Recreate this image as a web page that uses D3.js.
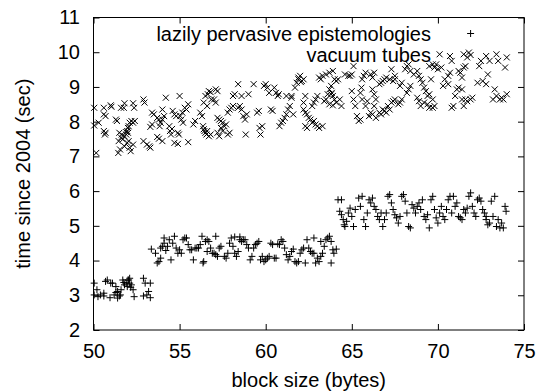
<!DOCTYPE html>
<html><head><meta charset="utf-8">
<script src="https://cdn.jsdelivr.net/npm/d3@7"></script>
<style>
html,body{margin:0;padding:0;background:#fff;}
svg{display:block;}
text{font-family:"Liberation Sans",Arial,Helvetica,sans-serif;fill:#000;}
</style></head><body>
<svg id="chart" width="541" height="392"></svg>
<script>
// ---- data ----
const xTicks = [50, 55, 60, 65, 70, 75];
const yTicks = [2, 3, 4, 5, 6, 7, 8, 9, 10, 11];
const seriesNames = ["lazily pervasive epistemologies", "vacuum tubes"];

// series 1: "+" markers (lazily pervasive epistemologies)
const plusX = [
50.04,50.04,50.20,50.26,50.40,50.60,50.70,50.80,50.60,50.96,51.00,51.10,51.20,51.30,51.40,51.50,51.56,51.60,51.70,51.76,51.80,51.90,51.96,52.04,52.10,52.16,52.20,52.30,52.36,51.40,51.30,52.10,52.00,52.90,53.00,53.30,52.90,53.10,53.20,53.30,
53.36,53.60,53.70,53.80,53.90,53.90,54.00,54.10,54.10,54.20,54.30,54.40,54.50,54.60,54.70,54.80,54.90,55.00,55.10,55.20,55.30,55.40,55.50,55.60,55.70,55.80,55.90,56.00,56.10,56.20,56.30,56.36,56.40,56.50,56.60,56.70,56.60,56.80,56.90,57.00,57.10,57.10,57.20,57.30,57.40,57.60,57.70,57.80,57.90,58.00,58.10,58.20,58.30,58.40,58.50,58.60,58.20,58.50,58.70,58.80,58.90,59.00,59.10,59.20,59.30,59.40,59.50,59.60,59.70,59.80,59.90,60.00,60.10,60.20,60.30,60.40,60.50,60.60,60.70,60.80,60.90,61.00,61.10,61.20,61.30,61.40,61.50,61.60,61.70,61.80,61.90,62.00,62.10,62.20,62.30,62.40,62.50,62.60,62.70,62.80,62.90,63.00,63.10,63.20,63.30,63.40,63.50,63.60,63.70,63.80,63.90,63.96,63.80,64.10,63.20,62.80,
64.20,64.40,64.30,64.40,64.50,64.56,64.60,64.70,64.80,64.90,65.00,65.10,65.20,65.40,65.50,65.60,65.70,65.80,65.90,66.00,66.10,66.20,66.30,66.40,66.50,66.60,66.70,66.80,66.90,67.00,67.10,67.20,67.30,67.40,67.50,67.60,67.70,67.80,67.90,68.00,68.10,68.20,68.30,68.40,68.50,68.60,68.70,68.80,68.90,69.00,69.10,69.20,69.30,69.40,69.50,69.60,69.70,69.80,69.90,70.00,70.10,70.20,70.30,70.40,70.50,70.60,70.70,70.80,70.90,71.00,71.10,71.20,71.30,71.40,71.50,71.60,71.70,71.80,71.90,72.00,72.10,72.20,72.30,72.40,72.50,72.60,72.70,72.80,72.90,73.00,73.10,73.20,73.30,73.40,73.50,73.60,73.80,73.90,73.96,73.70,72.80
];
const plusY = [
3.35,3.01,3.16,2.96,3.01,2.98,3.40,3.44,3.06,2.93,3.35,3.35,3.01,3.08,2.92,2.98,3.01,3.16,3.44,3.37,3.30,3.35,3.25,3.44,3.35,3.23,3.30,3.16,2.96,3.11,3.25,3.49,3.44,3.49,3.35,3.35,2.98,3.01,3.11,2.93,
4.33,4.21,3.93,3.97,4.07,4.36,4.41,4.50,4.65,4.29,4.41,4.60,4.02,4.50,4.70,4.36,4.21,4.31,4.21,4.60,4.65,4.65,4.46,4.31,4.31,4.02,4.36,4.36,4.36,4.46,4.70,3.93,3.97,4.55,4.60,4.55,4.26,4.36,4.21,4.21,4.17,4.70,4.12,4.36,4.41,4.12,4.07,4.21,4.50,4.65,4.41,4.21,4.12,4.26,4.60,4.55,4.68,4.68,4.60,4.60,4.46,4.36,4.02,4.12,4.36,4.46,4.50,4.55,4.02,4.12,3.97,4.02,4.07,4.12,4.50,4.46,4.07,4.07,4.48,4.46,4.60,4.55,4.36,4.17,4.02,4.12,4.26,4.33,3.97,3.93,3.97,4.21,4.31,4.36,3.93,4.60,4.36,4.26,4.21,4.21,3.93,4.07,3.97,4.12,4.21,4.41,4.60,4.65,4.70,4.55,4.31,4.21,3.93,4.33,4.55,4.65,
5.75,5.75,5.42,5.32,5.18,5.03,4.98,5.13,5.37,5.51,5.27,4.98,5.47,5.80,5.56,5.85,5.18,4.98,5.37,5.75,5.66,5.80,5.56,5.47,5.27,5.18,5.37,4.98,5.18,5.37,5.85,5.90,5.66,5.47,5.32,5.23,5.08,5.27,5.85,5.90,5.71,5.37,4.98,4.94,5.61,5.51,5.37,5.56,5.66,5.47,5.75,5.27,5.18,5.32,4.94,5.75,5.85,5.47,5.23,5.08,5.37,5.56,5.27,5.18,5.47,5.75,5.85,5.37,5.85,5.56,5.66,5.27,5.23,5.18,5.47,5.37,5.51,5.85,5.95,5.56,5.37,5.27,5.75,5.80,5.71,5.47,5.37,5.18,5.03,5.08,5.71,5.27,5.85,4.98,5.18,4.94,4.94,5.56,5.42,5.08,5.27
];

// series 2: "x" markers (vacuum tubes)
const crossX = [
50.04,50.60,51.00,51.04,51.60,51.80,51.76,52.30,52.36,50.04,50.30,50.60,50.70,50.60,50.66,50.70,51.30,51.36,51.50,51.60,51.46,51.54,51.44,51.64,51.70,51.80,51.90,51.96,52.00,52.04,52.10,52.20,52.30,52.40,51.80,51.96,52.10,52.16,52.04,52.30,52.00,51.90,50.16,
52.90,52.96,52.90,53.10,53.24,53.30,53.40,53.50,53.70,53.80,53.90,53.84,54.00,54.10,54.20,54.00,53.30,53.40,53.70,53.80,54.00,54.40,54.44,54.50,54.56,54.60,54.70,54.80,54.90,54.96,55.00,55.04,55.10,55.20,55.16,55.30,55.40,55.50,54.70,54.90,55.50,55.80,55.90,
56.20,56.30,56.36,56.40,56.44,56.50,56.60,56.56,56.64,56.50,56.70,56.80,56.84,56.40,56.60,57.00,57.10,57.20,57.10,57.20,57.30,57.40,57.50,57.60,57.70,57.80,57.90,58.00,58.10,57.40,57.50,57.80,57.90,57.20,57.30,56.70,56.80,
58.10,58.20,58.40,58.40,58.50,58.60,58.70,58.80,58.84,58.90,59.00,58.60,59.30,59.50,59.60,59.64,59.70,59.80,59.90,60.00,60.10,60.20,60.30,60.40,60.50,60.60,60.70,60.76,60.80,60.90,61.00,61.10,61.20,61.30,61.40,61.50,61.60,61.50,61.70,61.20,
61.80,61.90,62.00,62.10,61.90,62.04,62.20,62.30,62.20,62.20,62.30,62.40,62.50,62.60,62.70,62.80,62.90,63.00,63.10,63.30,62.30,62.40,62.70,62.80,62.90,63.00,63.10,63.20,63.30,63.50,63.70,63.90,64.00,64.10,64.20,63.80,63.70,63.84,63.90,64.00,64.10,63.90,63.80,63.60,63.50,63.40,63.70,
64.30,64.40,64.60,64.80,64.90,65.00,65.10,65.00,65.10,65.20,65.30,65.40,65.50,65.60,65.70,65.80,65.56,65.50,65.60,65.80,65.90,
66.10,66.20,66.30,66.20,66.30,66.40,66.30,66.10,66.00,66.20,66.40,66.60,66.70,66.80,66.90,67.00,67.10,67.20,67.30,67.40,67.50,67.70,67.80,67.90,66.60,66.70,66.80,66.90,67.00,67.20,67.40,67.50,67.30,67.50,67.80,67.90,
68.20,68.30,68.40,68.10,68.20,68.30,68.40,68.60,68.80,68.90,69.00,69.10,69.20,69.30,69.40,69.50,69.60,69.70,69.80,68.80,68.90,69.00,69.20,69.40,69.50,69.70,
69.50,69.70,69.80,69.90,70.00,70.10,70.20,70.30,70.40,70.60,70.70,70.80,70.60,70.70,70.80,70.90,71.00,71.10,71.20,71.40,71.30,71.40,71.20,71.50,71.60,71.70,71.80,71.50,71.60,71.70,71.90,72.00,71.40,71.50,
72.30,72.40,72.50,72.60,72.80,72.90,72.80,73.00,73.20,73.40,73.50,73.60,73.70,73.80,73.90,74.00,74.00,73.30,73.40
];
const crossY = [
8.40,8.40,8.47,8.43,8.40,8.53,8.40,8.53,8.40,7.89,7.97,8.21,8.16,7.73,7.63,7.68,8.06,8.02,7.68,7.54,7.44,7.20,7.10,7.63,7.49,7.58,7.63,7.73,7.82,7.87,7.97,8.02,7.97,8.02,7.29,7.39,7.25,7.15,7.44,7.34,7.68,7.70,7.10,
8.64,8.55,7.44,7.34,7.29,7.25,8.26,8.21,8.11,8.06,7.97,7.87,8.06,8.16,8.69,8.35,7.85,7.92,7.56,7.51,7.44,7.87,7.73,7.63,7.79,8.31,8.21,8.16,7.68,7.63,8.74,8.16,8.06,7.97,8.26,8.40,8.35,8.50,7.39,7.36,7.41,7.92,8.02,
8.26,8.16,7.87,7.78,7.73,7.68,7.73,7.63,8.79,8.74,8.88,8.85,8.64,8.55,8.45,8.64,8.93,8.88,8.55,8.11,8.06,8.02,7.97,7.87,7.92,8.26,8.35,8.40,8.45,7.82,7.73,7.63,7.68,7.68,7.58,7.58,7.63,
8.74,8.79,9.08,8.40,8.45,8.35,8.16,8.06,7.63,8.21,8.79,8.74,9.08,8.26,8.31,7.82,7.63,7.87,9.03,9.08,8.98,8.83,8.35,8.31,8.98,8.83,8.74,8.79,7.87,7.97,8.02,8.11,8.21,8.35,8.45,8.69,8.21,8.74,8.98,8.74,
9.12,9.22,9.32,9.17,9.27,9.14,9.22,8.74,8.55,8.35,8.26,8.21,8.11,8.06,7.97,8.02,7.92,7.87,7.82,7.87,7.87,7.82,8.45,8.55,8.64,8.74,9.27,9.22,9.32,9.36,9.41,9.46,9.22,9.17,9.22,9.03,8.93,8.83,8.74,8.64,8.55,8.47,8.79,8.79,8.64,8.59,8.50,
8.64,8.45,9.36,9.32,9.32,9.36,9.60,8.88,8.64,8.45,8.16,8.02,8.06,9.22,9.32,9.41,8.98,8.83,8.64,8.45,8.59,
9.36,9.27,9.41,8.93,8.79,8.64,8.45,8.26,8.16,8.21,8.11,8.26,8.21,8.35,8.31,8.26,8.45,8.35,8.55,8.59,8.64,8.50,8.55,8.64,9.08,9.12,9.17,9.22,9.27,9.22,9.17,9.22,9.51,9.32,9.03,9.12,
8.83,8.93,9.03,9.51,9.60,9.65,9.46,9.36,9.46,9.32,9.22,9.12,8.98,8.88,8.74,8.79,9.22,8.64,8.45,8.69,8.59,8.45,8.55,8.50,8.40,8.40,
9.60,9.65,9.56,9.65,9.51,9.94,9.56,9.03,9.22,9.08,9.89,9.75,9.32,9.41,8.40,8.45,8.74,8.93,8.98,8.93,9.41,9.27,9.46,9.56,9.60,9.85,9.99,9.94,8.64,8.59,8.64,8.69,8.64,8.45,
9.12,9.60,9.75,9.17,9.08,9.36,9.89,9.75,8.64,9.94,9.75,8.64,8.69,8.64,9.56,9.85,8.79,8.93,8.74
];

// ---- layout ----
const W = 541, H = 392;
const M = {left: 93.5, right: 524, top: 17.5, bottom: 330};
const FS = 20;

const x = d3.scaleLinear().domain([50, 75]).range([M.left, M.right]);
const y = d3.scaleLinear().domain([2, 11]).range([M.bottom, M.top]);

const svg = d3.select("#chart");
svg.append("rect").attr("width", W).attr("height", H).attr("fill", "#fff");

const TL = 6;
function styleAxis(g){
  g.select(".domain").remove();
  g.selectAll(".tick line").attr("stroke", "#000").attr("stroke-width", 1);
  g.selectAll("text").style("font-size", FS + "px").attr("fill", "#000")
   .style("font-family", '"Liberation Sans", Arial, sans-serif');
}
svg.append("g").attr("transform", `translate(0,${M.bottom})`)
  .call(d3.axisBottom(x).tickValues(xTicks).tickSize(-TL).tickPadding(14).tickFormat(d3.format("d")))
  .call(styleAxis);
svg.append("g").attr("transform", `translate(0,${M.top})`)
  .call(d3.axisTop(x).tickValues(xTicks).tickSize(-TL).tickFormat(""))
  .call(styleAxis);
svg.append("g").attr("transform", `translate(${M.left},0)`)
  .call(d3.axisLeft(y).tickValues(yTicks).tickSize(-TL).tickPadding(13.5).tickFormat(d3.format("d")))
  .call(styleAxis);
svg.append("g").attr("transform", `translate(${M.right},0)`)
  .call(d3.axisRight(y).tickValues(yTicks).tickSize(-TL).tickFormat(""))
  .call(styleAxis);

// border
svg.append("rect")
  .attr("x", M.left).attr("y", M.top)
  .attr("width", M.right - M.left).attr("height", M.bottom - M.top)
  .attr("fill", "none").attr("stroke", "#000").attr("stroke-width", 1);

// markers
const P = 3.5, C = 3;
function plusPath(cx, cy){ return `M${cx-P},${cy}H${cx+P}M${cx},${cy-P}V${cy+P}`; }
function crossPath(cx, cy){ return `M${cx-C},${cy-C}L${cx+C},${cy+C}M${cx-C},${cy+C}L${cx+C},${cy-C}`; }

const plusData = plusX.map((v, i) => [v, plusY[i]]);
const crossData = crossX.map((v, i) => [v, crossY[i]]);

svg.append("g").selectAll("path").data(plusData).join("path")
  .attr("d", d => plusPath(x(d[0]), y(d[1])))
  .attr("stroke", "#000").attr("stroke-width", 1).attr("fill", "none");
svg.append("g").selectAll("path").data(crossData).join("path")
  .attr("d", d => crossPath(x(d[0]), y(d[1])))
  .attr("stroke", "#000").attr("stroke-width", 1).attr("fill", "none");

// key
const keyTextX = 431, keySampleX = 470.6;
const keyBase = [40.5, 62];
seriesNames.forEach((name, i) => {
  svg.append("text").attr("x", keyTextX).attr("y", keyBase[i])
    .attr("text-anchor", "end").style("font-size", FS + "px").text(name);
  const sy = keyBase[i] - 7;
  svg.append("path")
    .attr("d", i === 0 ? plusPath(keySampleX, sy) : crossPath(keySampleX, sy))
    .attr("stroke", "#000").attr("stroke-width", 1).attr("fill", "none");
});

// axis titles
svg.append("text").attr("x", (M.left + M.right) / 2).attr("y", 387)
  .attr("text-anchor", "middle").style("font-size", FS + "px").text("block size (bytes)");
svg.append("text").attr("transform", `translate(30,${(M.top + M.bottom) / 2}) rotate(-90)`)
  .attr("text-anchor", "middle").style("font-size", FS + "px").text("time since 2004 (sec)");
</script>
</body></html>
